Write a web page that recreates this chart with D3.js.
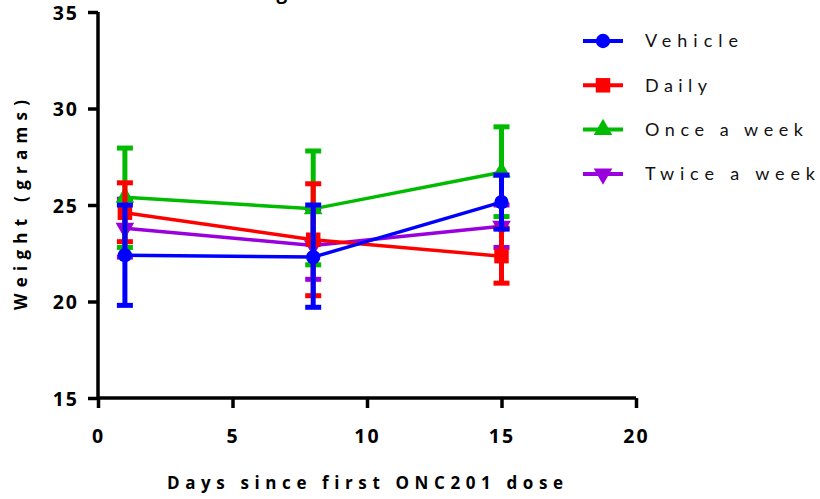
<!DOCTYPE html>
<html>
<head>
<meta charset="utf-8">
<script src="https://cdn.jsdelivr.net/npm/d3@7"></script>
<style>
  body { margin: 0; background: #fff; }
  svg { display: block; font-family: Lato, "Open Sans", sans-serif; font-variant-ligatures: none; }
</style>
</head>
<body>
<svg id="chart" width="820" height="499"></svg>
<script>
// days of measurement
const days = [1, 8, 15];
const seriesNames = ["Vehicle", "Daily", "Once a week", "Twice a week"];
const seriesColors = ["#0000ff", "#ff0000", "#00bb00", "#9900dd"];
const seriesSymbols = ["circle", "square", "triangle", "triangleDown"];

// mean weight and error (upper / lower) per series
const vehicleMean = [22.4, 22.3, 25.15];
const vehicleHi = [25.0, 25.0, 26.55];
const vehicleLo = [19.8, 19.7, 23.75];

const dailyMean = [24.6, 23.2, 22.35];
const dailyHi = [26.15, 26.1, 23.8];
const dailyLo = [23.1, 20.3, 20.95];

const onceMean = [25.4, 24.8, 26.7];
const onceHi = [27.95, 27.8, 29.05];
const onceLo = [22.8, 21.9, 24.4];

const twiceMean = [23.8, 22.9, 23.9];
const twiceHi = [25.3, 24.8, 25.0];
const twiceLo = [22.3, 21.15, 22.8];

const xTicks = [0, 5, 10, 15, 20];
const yTicks = [15, 20, 25, 30, 35];

const series = [
  { mean: vehicleMean, hi: vehicleHi, lo: vehicleLo },
  { mean: dailyMean, hi: dailyHi, lo: dailyLo },
  { mean: onceMean, hi: onceHi, lo: onceLo },
  { mean: twiceMean, hi: twiceHi, lo: twiceLo }
].map((s, i) => ({
  ...s,
  name: seriesNames[i],
  color: seriesColors[i],
  symbol: seriesSymbols[i],
  points: days.map((d, j) => ({ day: d, mean: s.mean[j], hi: s.hi[j], lo: s.lo[j] }))
}));

const svg = d3.select("#chart");
const margin = { left: 98, top: 12 };
const width = 538, height = 386;
const boldFont = "'Open Sans', sans-serif";

const x = d3.scaleLinear().domain([0, 20]).range([0, width]);
const y = d3.scaleLinear().domain([15, 35]).range([height, 0]);

const g = svg.append("g").attr("transform", `translate(${margin.left},${margin.top})`);

// cut-off title at the top
svg.append("text")
  .attr("x", 232).attr("y", -1)
  .attr("font-size", 19).attr("font-weight", "bold")
  .attr("font-family", boldFont)
  .attr("letter-spacing", 3)
  .text("Weight");

// ================= AXES =================
const xAxis = g.append("g")
  .attr("transform", `translate(0,${height})`)
  .call(d3.axisBottom(x).tickValues(xTicks).tickSize(10).tickPadding(21));

const yAxis = g.append("g")
  .call(d3.axisLeft(y).tickValues(yTicks).tickSize(10).tickPadding(9));

[xAxis, yAxis].forEach(a => {
  a.select(".domain").attr("stroke", "#000").attr("stroke-width", 3.5);
  a.selectAll(".tick line").attr("stroke", "#000").attr("stroke-width", 3.5);
  a.selectAll(".tick text")
    .attr("fill", "#000")
    .attr("font-size", 19.5)
    .attr("font-weight", "bold")
    .attr("letter-spacing", 2)
    .attr("font-family", boldFont);
});
// domain without outer ticks
xAxis.select(".domain").attr("d", `M0,0H${width}`);
yAxis.select(".domain").attr("d", `M0,0V${height}`);
xAxis.selectAll(".tick line").attr("y1", 0).attr("y2", 10);
yAxis.selectAll(".tick line").attr("x1", 0).attr("x2", -10);
yAxis.selectAll(".tick text").attr("dy", "0.36em");
xAxis.selectAll(".tick text").attr("dx", 0);

// axis titles
svg.append("text")
  .attr("x", 167).attr("y", 489)
  .attr("font-size", 17).attr("font-weight", "bold")
  .attr("font-family", boldFont)
  .attr("textLength", 396).attr("lengthAdjust", "spacing")
  .text("Days since first ONC201 dose");

svg.append("text")
  .attr("transform", "translate(27,310) rotate(-90)")
  .attr("font-size", 17).attr("font-weight", "bold")
  .attr("font-family", boldFont)
  .attr("textLength", 210).attr("lengthAdjust", "spacing")
  .text("Weight (grams)");

// ================= SERIES =================
const symbolType = {
  circle: d3.symbolCircle,
  square: d3.symbolSquare,
  triangle: d3.symbolTriangle,
  triangleDown: d3.symbolTriangle
};
const symbolSize = { circle: 160, square: 210, triangle: 150, triangleDown: 150 };

function drawSymbol(sel, s) {
  sel.append("path")
    .attr("d", d3.symbol().type(symbolType[s.symbol]).size(symbolSize[s.symbol])())
    .attr("fill", s.color)
    .attr("transform", s.symbol === "triangleDown" ? "rotate(180)" : null);
}

const line = d3.line().x(d => x(d.day)).y(d => y(d.mean));
const capW = 8;

// draw order: twice, once, daily, vehicle on top
[3, 2, 1, 0].forEach(i => {
  const s = series[i];
  const sg = g.append("g");

  sg.append("path")
    .datum(s.points)
    .attr("d", line)
    .attr("fill", "none")
    .attr("stroke", s.color)
    .attr("stroke-width", 3.5);

  const eb = sg.selectAll(".err").data(s.points).enter().append("g");
  eb.append("line")
    .attr("x1", d => x(d.day)).attr("x2", d => x(d.day))
    .attr("y1", d => y(d.hi)).attr("y2", d => y(d.lo))
    .attr("stroke", s.color).attr("stroke-width", 5);
  ["hi", "lo"].forEach(k => {
    eb.append("line")
      .attr("x1", d => x(d.day) - capW).attr("x2", d => x(d.day) + capW)
      .attr("y1", d => y(d[k])).attr("y2", d => y(d[k]))
      .attr("stroke", s.color).attr("stroke-width", 5);
  });

  sg.selectAll(".pt").data(s.points).enter().append("g")
    .attr("transform", d => `translate(${x(d.day)},${y(d.mean)})`)
    .each(function () { drawSymbol(d3.select(this), s); });
});

// ================= LEGEND =================
const legendWidths = [93, 62, 158, 170];
const legend = svg.append("g").attr("transform", "translate(583,41)");
series.forEach((s, i) => {
  const row = legend.append("g").attr("transform", `translate(0,${i * 44.3})`);
  row.append("line")
    .attr("x1", 0).attr("x2", 40)
    .attr("stroke", s.color).attr("stroke-width", 4);
  const m = row.append("g").attr("transform", "translate(20,0)");
  drawSymbol(m, s);
  row.append("text")
    .attr("x", 62).attr("y", 0).attr("dy", "0.35em")
    .attr("font-size", 18)
    .attr("textLength", legendWidths[i]).attr("lengthAdjust", "spacing")
    .attr("fill", "#111")
    .text(s.name);
});
</script>
</body>
</html>
